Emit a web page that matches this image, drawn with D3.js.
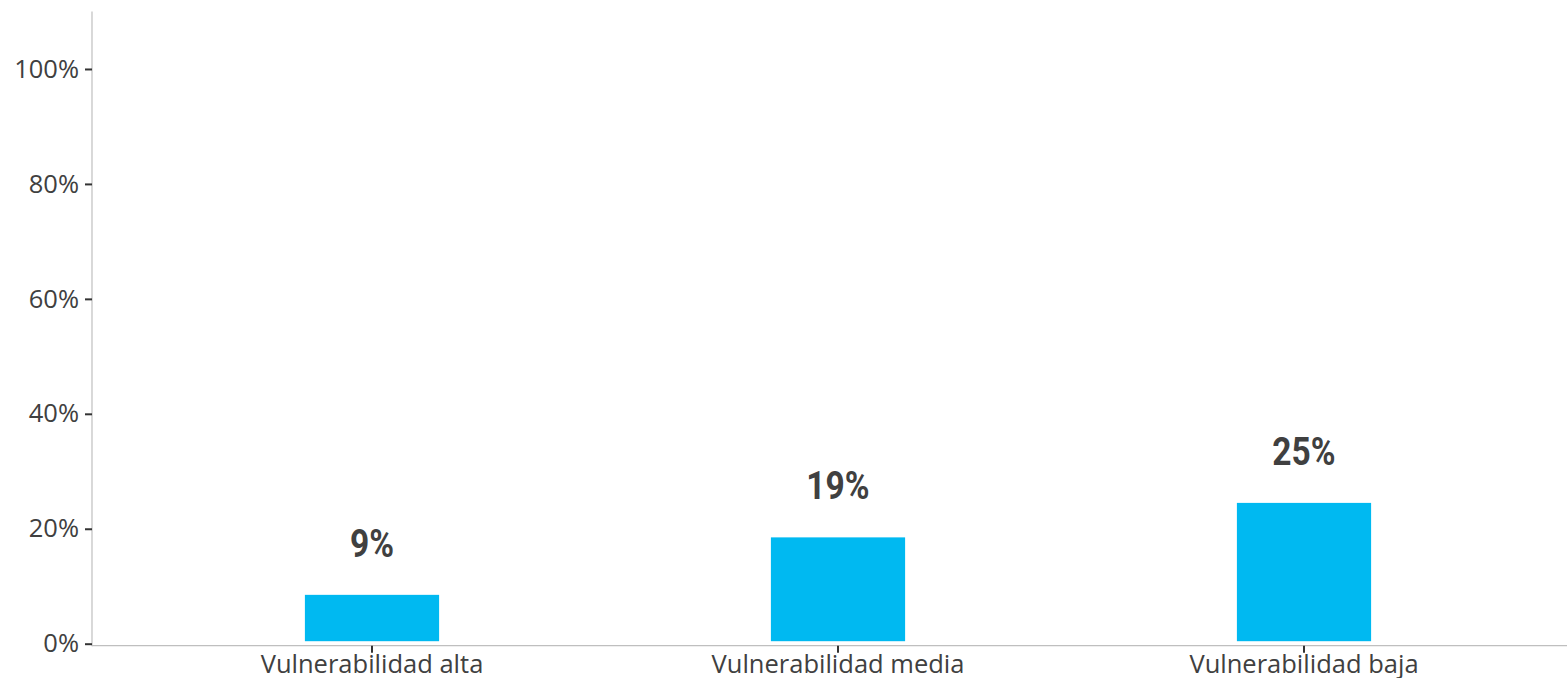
<!DOCTYPE html>
<html><head><meta charset="utf-8">
<script src="https://cdn.jsdelivr.net/npm/d3@7"></script>
<style>
html,body{margin:0;padding:0;background:#fff;}
svg{display:block;}
</style></head>
<body>
<svg id="chart" width="1567" height="678"></svg>
<script>
const categories = ["Vulnerabilidad alta", "Vulnerabilidad media", "Vulnerabilidad baja"];
const values = [8.5, 18.5, 24.5];
const valueLabels = ["9%", "19%", "25%"];
const yTicks = [0, 20, 40, 60, 80, 100];

const svg = d3.select("#chart");
const W = 1567, H = 678;
const axisX = 92;

const y = d3.scaleLinear().domain([0, 110]).range([643.7, 11.5]);
const x = d3.scaleBand().domain(categories).range([139, 1537])
  .paddingInner(0.712).paddingOuter(0.356);

const textColor = "#404040";
const tickFont = "'Open Sans', sans-serif";

// axis lines
svg.append("line").attr("x1", axisX).attr("x2", axisX)
  .attr("y1", y.range()[1]).attr("y2", y(0) + 2.5)
  .attr("stroke", "#bfbfbf").attr("stroke-width", 1.2);
svg.append("line").attr("x1", axisX).attr("x2", W)
  .attr("y1", y(0) + 2).attr("y2", y(0) + 2)
  .attr("stroke", "#bfbfbf").attr("stroke-width", 1.2);

// y axis
const yAxis = d3.axisLeft(y).tickValues(yTicks).tickSize(7).tickPadding(6)
  .tickFormat(d => d + "%");
const gy = svg.append("g").attr("transform", `translate(${axisX},0)`).call(yAxis);
gy.select(".domain").remove();
gy.selectAll(".tick line").attr("stroke", "#333").attr("stroke-width", 2);
gy.selectAll(".tick text").attr("fill", textColor)
  .style("font-family", tickFont).style("font-size", "25.5px");

// x axis
const xAxis = d3.axisBottom(x).tickSize(7).tickPadding(2);
const gx = svg.append("g").attr("transform", `translate(0,${y(0) + 2})`).call(xAxis);
gx.select(".domain").remove();
gx.selectAll(".tick line").attr("stroke", "#333").attr("stroke-width", 2);
gx.selectAll(".tick text").attr("fill", textColor)
  .style("font-family", tickFont).style("font-size", "25.5px");

// bars
svg.append("g").selectAll("rect").data(values).join("rect")
  .attr("x", (d, i) => x(categories[i]))
  .attr("width", x.bandwidth())
  .attr("y", d => y(d))
  .attr("height", d => y(0) - 2.5 - y(d))
  .attr("fill", "#00b9f1");

// value labels (condensed bold)
svg.append("g").selectAll("text").data(values).join("text")
  .attr("transform", (d, i) =>
    `translate(${x(categories[i]) + x.bandwidth() / 2},${y(d) - 38}) scale(0.86,1)`)
  .attr("text-anchor", "middle")
  .attr("fill", textColor)
  .style("font-family", "Roboto, sans-serif")
  .style("font-weight", "bold")
  .style("font-size", "39px")
  .text((d, i) => valueLabels[i]);
</script>
</body></html>
